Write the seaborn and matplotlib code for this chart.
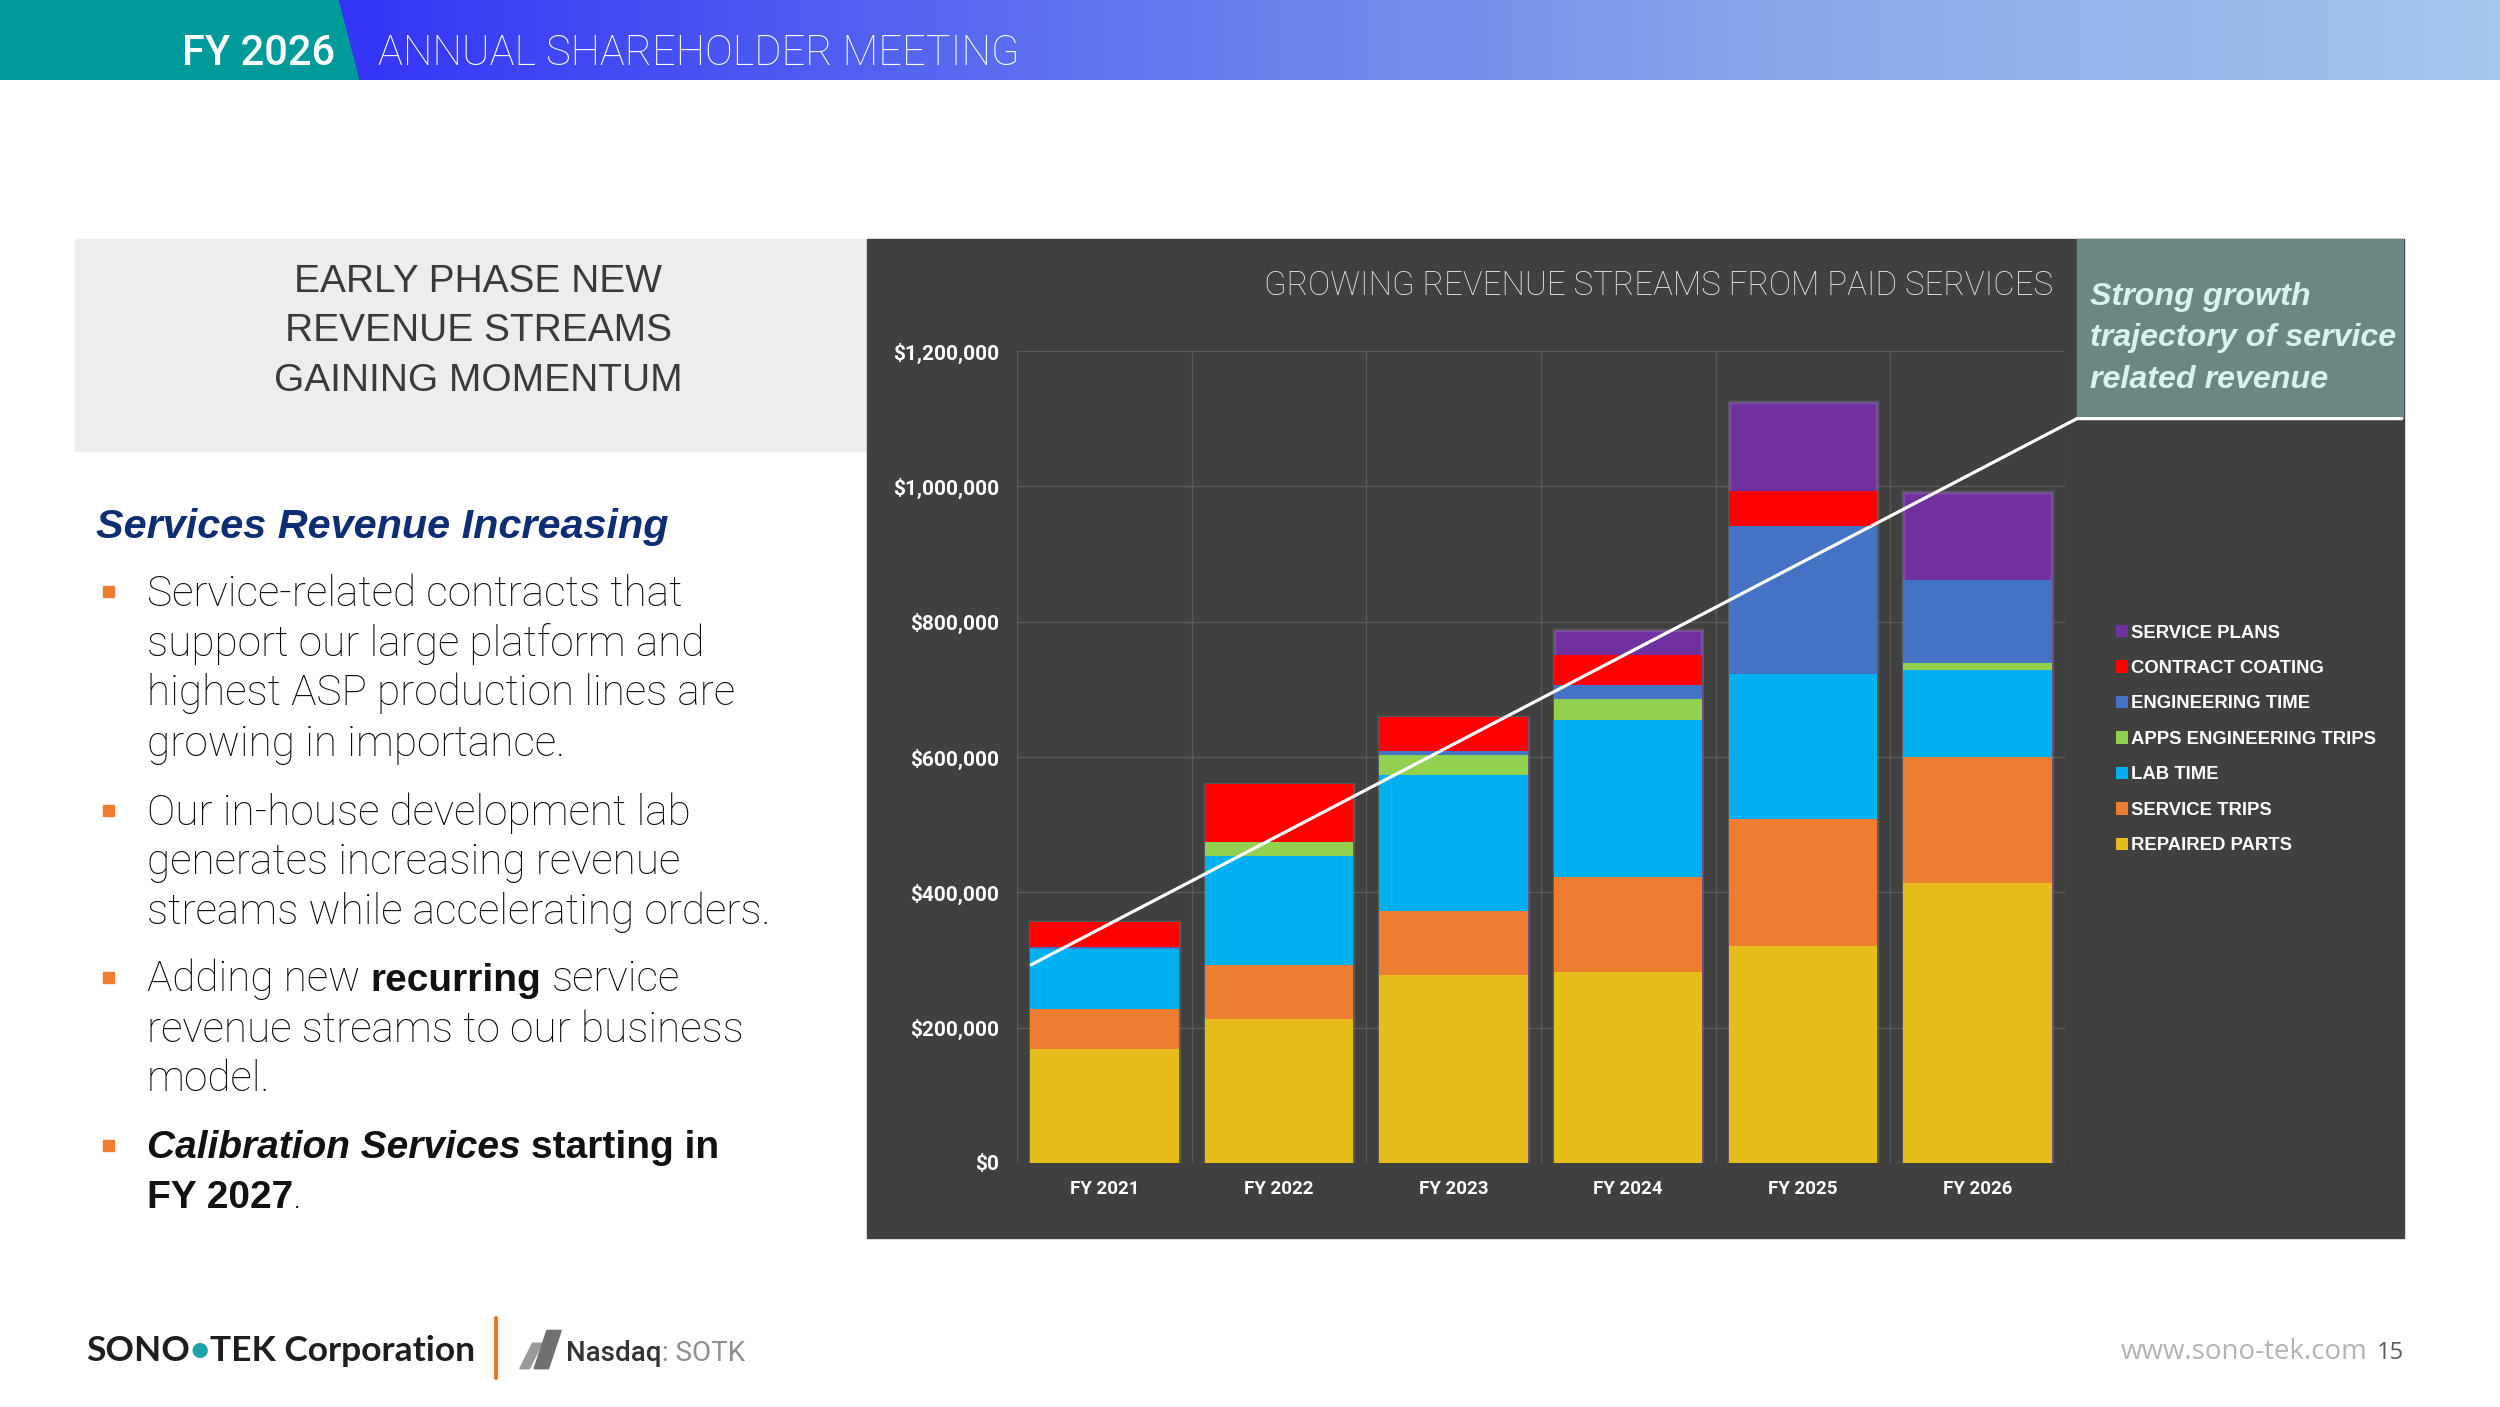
import numpy as np
import pandas as pd
import matplotlib
matplotlib.use("Agg")
import matplotlib.pyplot as plt
import seaborn as sns
from matplotlib.patches import Rectangle, Polygon, Patch
from matplotlib.colors import LinearSegmentedColormap
from matplotlib.ticker import FuncFormatter

# ---------------- data ----------------
years = ["FY 2021", "FY 2022", "FY 2023", "FY 2024", "FY 2025", "FY 2026"]
repaired_parts = [168000, 213000, 277000, 282000, 321000, 414000]
service_trips = [59000, 79000, 95000, 140000, 187000, 186000]
lab_time = [89000, 161000, 201000, 232000, 215000, 129000]
apps_engineering_trips = [0, 21000, 30000, 32000, 0, 10000]
engineering_time = [3000, 0, 6000, 21000, 219000, 123000]
contract_coating = [37000, 86000, 50000, 43000, 51000, 0]
service_plans = [0, 0, 0, 38000, 131000, 130000]
trend_values = [349000, 485000, 619000, 753000, 889000, 1023000]

series_names = ["REPAIRED PARTS", "SERVICE TRIPS", "LAB TIME", "APPS ENGINEERING TRIPS",
                "ENGINEERING TIME", "CONTRACT COATING", "SERVICE PLANS"]
series_values = [repaired_parts, service_trips, lab_time, apps_engineering_trips,
                 engineering_time, contract_coating, service_plans]
series_colors = ["#e6bd1a", "#ed7d31", "#00b0f0", "#92d050", "#4472c4", "#ff0000", "#7030a0"]
y_ticks = [0, 200000, 400000, 600000, 800000, 1000000, 1200000]

# ---------------- style ----------------
sns.set_style("dark")
plt.rcParams["font.family"] = ["Roboto", "DejaVu Sans"]

W, H = 1568.0, 882.0
def fx(x): return x / W
def fy(y): return 1 - y / H

fig = plt.figure(figsize=(25, 14.07), dpi=100, facecolor="white")
renderer = fig.canvas.get_renderer()

def measure(txt, **props):
    t = fig.text(0, 0, txt, **props)
    w = t.get_window_extent(renderer=renderer).width
    t.remove()
    return w

def seq_text(x, y, parts):
    cx = fx(x) * fig.bbox.width
    for txt, props in parts:
        trail = txt.endswith(" ")
        s = txt.rstrip(" ")
        t = fig.text(cx / fig.bbox.width, fy(y), s, ha="left", va="baseline", **props)
        bb = t.get_window_extent(renderer=renderer)
        cx = bb.x1
        if trail:
            cx += measure("x x", **props) - measure("xx", **props)

# ---------------- header ----------------
ax_h = fig.add_axes([0, fy(50), 1, 50 / H])
ax_h.set_xlim(0, W)
ax_h.set_ylim(50, 0)
ax_h.axis("off")
cmap = LinearSegmentedColormap.from_list("hdr", ["#3434f6", "#5d72ef", "#88a8ea", "#a3c7ea"])
ax_h.imshow(np.linspace(0, 1, 512)[None, :], cmap=cmap, aspect="auto", extent=(212, W, 50, 0))
ax_h.add_patch(Polygon([(0, 0), (212, 0), (225, 50), (0, 50)], closed=True, color="#009a9a"))
fig.text(fx(210), fy(41), "FY 2026", ha="right", va="baseline", color="white",
         fontsize=30, fontweight="medium")
fig.text(fx(237), fy(41), "ANNUAL SHAREHOLDER MEETING", ha="left", va="baseline", color="white",
         fontsize=30, fontweight="light")

# ---------------- left panel ----------------
fig.add_artist(Rectangle((fx(47), fy(283)), (543 - 47) / W, (283 - 150) / H,
                         transform=fig.transFigure, color="#ededed", zorder=-10))
for txt, yb in zip(["EARLY PHASE NEW", "REVENUE STREAMS", "GAINING MOMENTUM"], [183, 214, 245]):
    fig.text(fx(300), fy(yb), txt, ha="center", va="baseline", color="#3a3a3a",
             fontsize=28, family=["Liberation Sans", "DejaVu Sans"])

fig.text(fx(60), fy(337), "Services Revenue Increasing", ha="left", va="baseline",
         color="#0e2d72", fontsize=29.8, fontweight="bold", fontstyle="italic",
         family=["Liberation Sans", "DejaVu Sans"])

body = dict(fontsize=30.5, fontweight="light", color="#0a0a0a", family=["Roboto", "DejaVu Sans"])
bold = dict(fontsize=28, fontweight="bold", color="#111111", family=["Liberation Sans", "DejaVu Sans"])
boldit = dict(bold, fontstyle="italic")

lines = [
    (380, [("Service-related contracts that", body)]),
    (411, [("support our large platform and", body)]),
    (442, [("highest ASP production lines are", body)]),
    (474, [("growing in importance.", body)]),
    (517, [("Our in-house development lab", body)]),
    (548, [("generates increasing revenue", body)]),
    (579, [("streams while accelerating orders.", body)]),
    (621, [("Adding new ", body), ("recurring ", bold), ("service", body)]),
    (653, [("revenue streams to our business", body)]),
    (684, [("model.", body)]),
    (726, [("Calibration Services ", boldit), ("starting in", bold)]),
    (757, [("FY 2027", bold), (".", body)]),
]
for yb, parts in lines:
    seq_text(92, yb, parts)
for yc in [371, 508, 613, 718]:
    fig.add_artist(Rectangle((fx(64.5), fy(yc + 3.5)), 7 / W, 7 / H,
                             transform=fig.transFigure, color="#ed7d31"))

# ---------------- chart panel ----------------
fig.add_artist(Rectangle((fx(544), fy(776)), (1508 - 544) / W, (776 - 150) / H,
                         transform=fig.transFigure, color="#404040", zorder=-10))
fig.add_artist(Rectangle((fx(1303), fy(262)), (1507 - 1303) / W, (262 - 150) / H,
                         transform=fig.transFigure, color="#6a8783", zorder=-5))
ann = dict(color="#d7f4ec", fontsize=23.2, fontweight="bold", fontstyle="italic",
           family=["Liberation Sans", "DejaVu Sans"], ha="left", va="baseline")
for txt, yb in zip(["Strong growth", "trajectory of service", "related revenue"], [191, 217, 243]):
    fig.text(fx(1311), fy(yb), txt, **ann)

fig.text(fx(1288), fy(185), "GROWING REVENUE STREAMS FROM PAID SERVICES", ha="right", va="baseline",
         color="#e8e8e8", fontsize=23.8, fontweight="light")

ax = fig.add_axes([fx(638), fy(729), (1295 - 638) / W, (729 - 220) / H])
ax.set_facecolor("none")

cum = np.zeros(len(years))
cums = []
for vals in series_values:
    cum = cum + np.array(vals, dtype=float)
    cums.append(cum.copy())
# draw from the tallest cumulative stack down so each segment shows its own colour;
# the tallest one carries a faint light edge that reads as the soft glow around each bar
stack = list(reversed(list(zip(series_names, cums, series_colors))))
for i, (name, c, color) in enumerate(stack):
    if i == 0:
        sns.barplot(x=years, y=c, order=years, color=color, saturation=1, width=0.85,
                    ax=ax, zorder=2, linewidth=2.5, edgecolor=(1, 1, 1, 0.13))
    else:
        sns.barplot(x=years, y=c, order=years, color=color, saturation=1, width=0.85,
                    ax=ax, zorder=2, linewidth=0)

ax.set_xlim(-0.5, 5.5)
ax.set_ylim(0, 1200000)
ax.set_yticks(y_ticks)
ax.yaxis.set_major_formatter(FuncFormatter(lambda v, _: f"${v:,.0f}"))
ax.set_xticks(np.arange(-0.5, 6.0, 1.0), minor=True)
ax.grid(False)
ax.yaxis.grid(True, color="#595959", lw=1)
ax.xaxis.grid(True, which="minor", color="#595959", lw=1)
ax.set_axisbelow(True)
ax.tick_params(which="both", length=0)
ax.tick_params(axis="y", pad=13, labelsize=15, labelcolor="white")
ax.tick_params(axis="x", pad=12.5, labelsize=13.5, labelcolor="white")
for lab in ax.get_xticklabels() + ax.get_yticklabels():
    lab.set_fontweight("bold")
ax.set_xlabel("")
ax.set_ylabel("")
sns.despine(ax=ax, left=True, bottom=True)

# trend line (fit through values read at each year), extended to the callout box
pos = np.arange(len(years))
coef = np.polyfit(pos, trend_values, 1)
x_start, x_corner, x_end = -0.42, 5.57, 7.43
y0, y1 = np.polyval(coef, [x_start, x_corner])
ax.plot([x_start, x_corner, x_end], [y0, y1, y1], color="white", lw=2.3, clip_on=False,
        zorder=6, solid_joinstyle="miter")

handles = [Patch(facecolor=c, edgecolor="none") for c in reversed(series_colors)]
leg = ax.legend(handles, list(reversed(series_names)), loc="upper left",
                bbox_to_anchor=(fx(1327), fy(391.5)), bbox_transform=fig.transFigure,
                frameon=False, handlelength=0.68, handleheight=0.68, handletextpad=0.17,
                labelspacing=1.0, borderpad=0, borderaxespad=0,
                prop={"family": ["Liberation Sans", "DejaVu Sans"], "weight": "bold", "size": 13.3})
for t in leg.get_texts():
    t.set_color("white")

# ---------------- footer ----------------
logo = dict(fontsize=25.5, fontweight="bold", color="#1e1e1e", family=["Lato", "DejaVu Sans"])
seq_text(54, 853, [("SONO", logo), ("•", dict(logo, color="#1aa3a8")),
                   ("TEK Corporation", logo)])
fig.add_artist(plt.Line2D([fx(311), fx(311)], [fy(826), fy(864)], transform=fig.transFigure,
                          color="#e07b26", lw=3))
fig.add_artist(Polygon([(fx(326), fy(858)), (fx(332), fy(858)), (fx(340), fy(842)), (fx(334), fy(842))],
                       closed=True, transform=fig.transFigure, color="#9a9a9a"))
fig.add_artist(Polygon([(fx(335), fy(858)), (fx(343), fy(834)), (fx(352), fy(834)), (fx(344), fy(858))],
                       closed=True, transform=fig.transFigure, color="#707070"))
seq_text(355, 853, [("Nasdaq", dict(fontsize=20, fontweight="medium", color="#333333")),
                    (": SOTK", dict(fontsize=20, fontweight="normal", color="#8f8f8f"))])
fig.text(fx(1485), fy(852), "www.sono-tek.com", ha="right", va="baseline", color="#b3b3b3",
         fontsize=20, family=["Open Sans", "DejaVu Sans"])
fig.text(fx(1508), fy(852), "15", ha="right", va="baseline", color="#595959",
         fontsize=17, family=["Open Sans", "DejaVu Sans"])

fig.savefig("out.png", dpi=100, facecolor="white")
